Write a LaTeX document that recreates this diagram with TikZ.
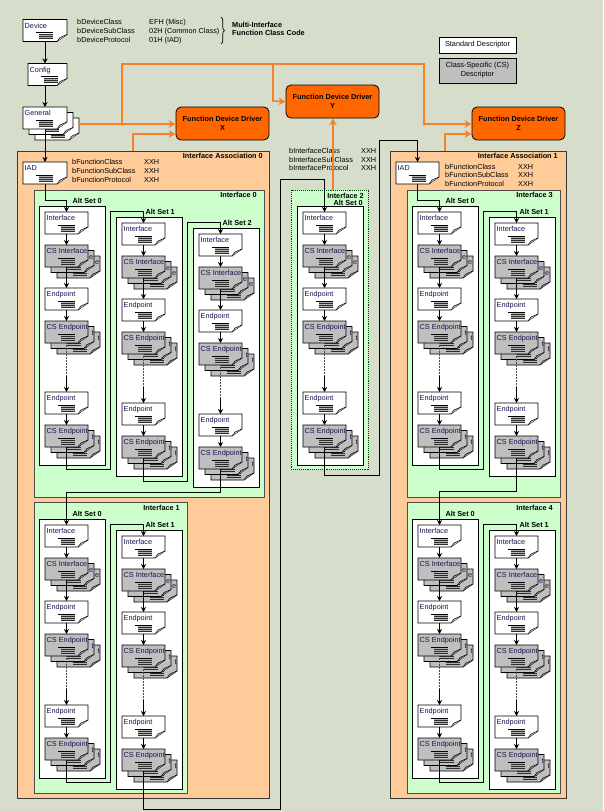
\documentclass[tikz,border=0pt]{standalone}
\usepackage{fontspec}
\setmainfont{Liberation Sans}
\usetikzlibrary{arrows.meta,decorations.pathreplacing}
\definecolor{bgc}{RGB}{214,221,203}
\definecolor{peach}{RGB}{255,204,153}
\definecolor{mint}{RGB}{204,255,204}
\definecolor{fdd}{RGB}{255,102,0}
\definecolor{orl}{RGB}{250,128,40}
\definecolor{docgray}{RGB}{191,191,191}
\definecolor{navy}{RGB}{20,20,80}
\newcommand{\fs}{\fontsize{7.3}{9}\selectfont}
\tikzset{
  docbody/.style={draw=black, line width=0.7},
  doctext/.style={font=\fs, text=navy, inner sep=0, anchor=base west},
  conn/.style={draw=black, line width=0.7, -{Stealth[length=5pt,width=5pt]}},
  dotline/.style={draw=gray!60!black, densely dotted, line width=0.5},
  oconn/.style={draw=orl, line width=1.6, -{Stealth[length=7pt,width=7.5pt]}},
  lbl/.style={font=\fs, inner sep=0, text=black, anchor=base west},
  blbl/.style={font=\fs\bfseries, inner sep=0, text=black},
  iabox/.style={draw=gray!45!black, line width=0.9, fill=peach},
  ifbox/.style={draw=gray!60!black, line width=0.7, fill=mint},
  altbox/.style={draw=black, line width=0.7, fill=white},
  fddbox/.style={draw=black, line width=0.8, fill=fdd, rounded corners=5pt, minimum width=93pt, minimum height=33pt, align=center, font=\fs\bfseries, inner sep=0},
  pics/doc/.style n args={3}{code={
     \path[docbody, fill=#2] (0,0) -- (#3,0) -- (#3,15) -- (#3-10,22) -- (0,22) -- cycle;
     \draw[line width=0.5, fill=#2!75!black] (#3-10,22) -- (#3-7,18) -- (#3,15);
     \node[doctext] (-t) at (1.5,8.6) {#1};
     \draw[line width=0.5] (13,13) -- (30,13);
     \fill[gray!60] (16,14.3) rectangle (30,19.7);
     \foreach \k in {15.2,17,18.8} \draw[line width=0.5, gray!35!black] (16,\k) -- (30,\k);
     \coordinate (-n) at (#3/2,0);
     \coordinate (-s) at (#3/2,22);
  }},
  % #1 label without its last letter, #2 last letter, #3 fill, #4 width
  pics/stack/.style n args={4}{code={
     \pic at (12,11) {doc={\phantom{#1}#2}{#3}{#4}};
     \pic at (6,5.5) {doc={\phantom{#1}#2}{#3}{#4}};
     \pic at (0,0) {doc={#1#2}{#3}{#4}};
     \coordinate (-n) at (#4/2,0);
     \coordinate (-s) at (#4/2,22);
  }},
}
% column: #1 prefix, #2 box left, #3 box top
\newcommand{\altcol}[3]{%
  \pgfmathsetmacro\cbx{#2}\pgfmathsetmacro\cbt{#3}%
  \draw[altbox] (\cbx,\cbt) rectangle ++(66,259);
  \pgfmathsetmacro\cdx{#2+6}%
  \pgfmathsetmacro\cya{#3+6}\pgfmathsetmacro\cyb{#3+39}\pgfmathsetmacro\cyc{#3+82}%
  \pgfmathsetmacro\cyd{#3+115}\pgfmathsetmacro\cye{#3+186}\pgfmathsetmacro\cyf{#3+219}%
  \pic (#1i) at (\cdx,\cya) {doc={Interface}{white}{43}};
  \pic (#1ci) at (\cdx,\cyb) {stack={CS Interfac}{e}{docgray}{43}};
  \pic (#1e) at (\cdx,\cyc) {doc={Endpoint}{white}{43}};
  \pic (#1ce) at (\cdx,\cyd) {stack={CS Endpoin}{t}{docgray}{43}};
  \pic (#1ee) at (\cdx,\cye) {doc={Endpoint}{white}{43}};
  \pic (#1cee) at (\cdx,\cyf) {stack={CS Endpoin}{t}{docgray}{43}};
  \draw[conn] (#1i-s) -- (#1ci-n);
  \draw[conn] (#1ci-s) -- (#1e-n);
  \draw[conn] (#1e-s) -- (#1ce-n);
  \draw[dotline] (#1ce-s) -- ++(0,33) coordinate (#1dm);
  \draw[conn] (#1dm) -- (#1ee-n);
  \draw[conn] (#1ee-s) -- (#1cee-n);
}
\begin{document}
\begin{tikzpicture}[x=1pt,y=-1pt]
\useasboundingbox (0,0) rectangle (603,811);
\fill[bgc] (0,0) rectangle (603,811);

% ---- top area
\pic (dev) at (23,19.5) {doc={Device}{white}{44}};
\pic (cfg) at (28,63.5) {doc={Config}{white}{39}};
\pic (gen) at (23,107) {stack={General}{}{white}{44}};

\node[lbl] (dc1) at (77,24.3) {bDeviceClass};
\node[lbl] (dc2) at (77,33.3) {bDeviceSubClass};
\node[lbl] (dc3) at (77,42.3) {bDeviceProtocol};
\node[lbl] (dv1) at (149,24.3) {EFH (Misc)};
\node[lbl] (dv2) at (149,33.3) {02H (Common Class)};
\node[lbl] (dv3) at (149,42.3) {01H (IAD)};
\draw[line width=0.7, decorate, decoration={brace, amplitude=3.5pt}] (221,17) -- (221,44);
\node[blbl, anchor=base west] (mi1) at (232,27.1) {Multi-Interface};
\node[blbl, anchor=base west] (mi2) at (232,35.4) {Function Class Code};

% legend
\node[draw=black, line width=0.8, fill=white, minimum width=77pt, minimum height=16pt, inner sep=0, font=\fs] (std) at (477.5,45) {Standard Descriptor};
\node[draw=black, line width=0.8, fill=docgray, minimum width=77pt, minimum height=25pt, inner sep=0, align=center, font=\fs] (csd) at (477.5,70.5) {Class-Specific (CS)\\Descriptor};

% function device drivers
\node[fddbox] (fddx) at (222.5,123.5) {Function Device Driver\\X};
\node[fddbox] (fddy) at (332.5,101.5) {Function Device Driver\\Y};
\node[fddbox] (fddz) at (518.5,123.5) {Function Device Driver\\Z};

% ---- Interface Association 0
\draw[iabox] (17,151) rectangle (269,798);
\node[blbl, anchor=base east] (ia0lab) at (263,158.6) {Interface Association 0};
\pic (iad0) at (23,162) {doc={IAD}{white}{44}};
\node[lbl] (f01) at (72,164.3) {bFunctionClass};
\node[lbl] (f02) at (72,173.3) {bFunctionSubClass};
\node[lbl] (f03) at (72,182.3) {bFunctionProtocol};
\node[lbl] (fv1) at (144,164.3) {XXH};
\node[lbl] (fv2) at (144,173.3) {XXH};
\node[lbl] (fv3) at (144,182.3) {XXH};

\draw[ifbox] (34,190) rectangle (264,497);
\node[blbl, anchor=base east] (if0lab) at (257,197.8) {Interface 0};
\altcol{iA}{39}{206}
\altcol{iB}{116}{217}
\altcol{iC}{193}{228}
\node[blbl, anchor=base east] (laA) at (102,203.5) {Alt Set 0};
\node[blbl, anchor=base east] (laB) at (175,214) {Alt Set 1};
\node[blbl, anchor=base east] (laC) at (252,225) {Alt Set 2};

\draw[ifbox] (34,502) rectangle (187,793);
\node[blbl, anchor=base east] (if1lab) at (180,510.2) {Interface 1};
\altcol{iD}{39}{519}
\altcol{iE}{116}{530}
\node[blbl, anchor=base east] (laD) at (102,516.5) {Alt Set 0};
\node[blbl, anchor=base east] (laE) at (175,527) {Alt Set 1};

% ---- Interface 2
\node[lbl] (ic1) at (289,153.6) {bInterfaceClass};
\node[lbl] (ic2) at (289,162.2) {bInterfaceSubClass};
\node[lbl] (ic3) at (289,170.8) {bInterfaceProtocol};
\node[lbl] (iv1) at (361,153.6) {XXH};
\node[lbl] (iv2) at (361,162.2) {XXH};
\node[lbl] (iv3) at (361,170.8) {XXH};
\draw[draw=green!30!black, densely dotted, line width=0.9, fill=mint] (291,190) rectangle (368,469);
\altcol{iF}{297}{206}
\node[blbl, anchor=base east] (if2lab) at (364,198) {Interface 2};
\node[blbl, anchor=base east] (laF) at (363,205.6) {Alt Set 0};

% ---- Interface Association 1
\draw[iabox] (390,151) rectangle (566,798);
\node[blbl, anchor=base east] (ia1lab) at (558,158.8) {Interface Association 1};
\pic (iad1) at (396,162) {doc={IAD}{white}{43}};
\node[lbl] (g01) at (445,169.8) {bFunctionClass};
\node[lbl] (g02) at (445,177.9) {bFunctionSubClass};
\node[lbl] (g03) at (445,186.7) {bFunctionProtocol};
\node[lbl] (gv1) at (518,169.8) {XXH};
\node[lbl] (gv2) at (518,177.9) {XXH};
\node[lbl] (gv3) at (518,186.7) {XXH};

\draw[ifbox] (407,190) rectangle (560,497);
\node[blbl, anchor=base east] (if3lab) at (553,197.8) {Interface 3};
\altcol{iG}{412}{206}
\altcol{iH}{489}{217}
\node[blbl, anchor=base east] (laG) at (475,203.5) {Alt Set 0};
\node[blbl, anchor=base east] (laH) at (549,214) {Alt Set 1};

\draw[ifbox] (407,502) rectangle (560,793);
\node[blbl, anchor=base east] (if4lab) at (553,510.2) {Interface 4};
\altcol{iI}{412}{519}
\altcol{iJ}{489}{530}
\node[blbl, anchor=base east] (laI) at (475,516.5) {Alt Set 0};
\node[blbl, anchor=base east] (laJ) at (549,527) {Alt Set 1};

% ---- black connectors
\draw[conn] (dev-s) -- (dev-s |- cfg-n);
\draw[conn] (dev-s |- cfg-s) -- (dev-s |- gen-n);
\draw[conn] (dev-s |- gen-s) -- (iad0-n);
\draw[conn] (iad0-s) -- ++(0,16) -| (iAi-n);
\draw[conn] (iAcee-s) -- ++(0,22) -| (110,211) -| (iBi-n);
\draw[conn] (iBcee-s) -- ++(0,23) -| (187,222.5) -| (iCi-n);
\draw[conn] (iCcee-s) -- ++(0,23) -| (iDi-n);
\draw[conn] (iDcee-s) -- ++(0,22) -| (110,524) -| (iEi-n);
\draw[conn] (iEcee-s) -- ++(0,38) -| (280,179) -| (iFi-n);
\draw[conn] (iFcee-s) -- ++(0,28) -| (379,140) -| (iad1-n);
\draw[conn] (iad1-s) -- ++(0,16) -| (iGi-n);
\draw[conn] (iGcee-s) -- ++(0,22) -| (483,211) -| (iHi-n);
\draw[conn] (iHcee-s) -- ++(0,33) -| (iIi-n);
\draw[conn] (iIcee-s) -- ++(0,22) -| (483,524) -| (iJi-n);

% ---- orange connectors
\coordinate (genout) at (78,124);
\coordinate (oj1) at (122,124);
\coordinate (oj2) at (273,64);
\coordinate (ia0top) at (133,151);
\coordinate (if2top) at (333,190);
\coordinate (ia1top) at (445,151);
\draw[oconn] (genout) -- (fddx.west |- genout);
\draw[oconn] (oj1) -- (122,64) -- (424,64) -- (424,124) -- (fddz.west |- oj1);
\draw[oconn] (oj2) -- (273,101) -- (fddy.west);
\draw[oconn] (ia0top) -- (133,134) -- (fddx.west |- 0,134);
\draw[oconn] (if2top) -- (if2top |- fddy.south);
\draw[oconn] (ia1top) -- (445,134) -- (fddz.west |- 0,134);
\end{tikzpicture}
\end{document}
